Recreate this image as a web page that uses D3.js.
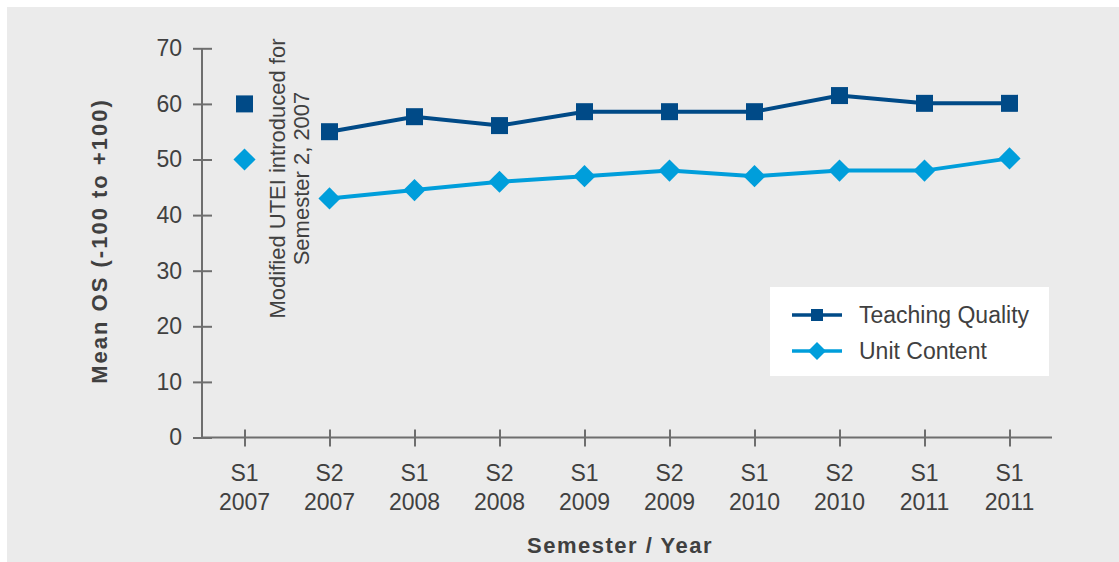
<!DOCTYPE html>
<html>
<head>
<meta charset="utf-8">
<script src="https://cdn.jsdelivr.net/npm/d3@7"></script>
<style>
  body { margin: 0; background: #fff; }
  text { font-family: "Liberation Sans", Arial, sans-serif; fill: #404040; }
</style>
</head>
<body>
<div id="chart"></div>
<script>
// semesters along x (two-line labels)
var semesters = ["S1", "S2", "S1", "S2", "S1", "S2", "S1", "S2", "S1", "S1"];
var years = ["2007", "2007", "2008", "2008", "2009", "2009", "2010", "2010", "2011", "2011"];
var teachingQuality = [60, 55, 57.7, 56.1, 58.6, 58.6, 58.6, 61.5, 60.1, 60.1];
var unitContent = [50, 43, 44.5, 46, 47, 48, 47, 48, 48, 50.2];
var yTicks = [0, 10, 20, 30, 40, 50, 60, 70];
// first point (S1 2007) is from the old survey, so not joined to the line
var joinFrom = 1;

var width = 1119, height = 562;
var dark = "#004a87", light = "#009edb", axisCol = "#6e6e6e";

var svg = d3.select("#chart").append("svg")
  .attr("width", width)
  .attr("height", height);

svg.append("rect")
  .attr("x", 7).attr("y", 7)
  .attr("width", width - 7).attr("height", height - 7)
  .attr("fill", "#ebebeb");

var plotLeft = 202, plotRight = 1052, plotTop = 48.3, plotBottom = 437.5;

var idx = d3.range(semesters.length);
var x = d3.scalePoint().domain(idx).range([plotLeft, plotRight]).padding(0.5);
var y = d3.scaleLinear().domain([0, 70]).range([plotBottom, plotTop]);

// y axis
var ya = svg.append("g").attr("transform", "translate(" + plotLeft + ",0)")
  .call(d3.axisLeft(y).tickValues(yTicks).tickSize(10).tickPadding(10));
ya.selectAll(".tick line").attr("x2", 10).attr("x1", -9);
svg.append("line").attr("class", "ax").attr("x1", plotLeft).attr("x2", plotLeft)
  .attr("y1", y(70)).attr("y2", plotBottom);

// x axis
var xa = svg.append("g").attr("transform", "translate(0," + plotBottom + ")")
  .call(d3.axisBottom(x).tickSize(9).tickFormat(""));
xa.selectAll(".tick line").attr("y1", -8);
svg.append("line").attr("class", "ax").attr("x1", plotLeft).attr("x2", plotRight)
  .attr("y1", plotBottom).attr("y2", plotBottom);

svg.selectAll(".domain").remove();
svg.selectAll(".tick line, line.ax").attr("stroke", axisCol).attr("stroke-width", 2);
ya.selectAll(".tick text").style("font-size", "23px").attr("fill", "#404040")
  .style("font-family", "Liberation Sans, Arial, sans-serif");

var xl = svg.append("g").selectAll("text").data(idx).enter().append("text")
  .attr("text-anchor", "middle")
  .style("font-size", "23px");
xl.append("tspan").attr("x", function(i) { return x(i); }).attr("y", 481)
  .text(function(i) { return semesters[i]; });
xl.append("tspan").attr("x", function(i) { return x(i); }).attr("y", 510)
  .text(function(i) { return years[i]; });

// axis titles
svg.append("text")
  .attr("transform", "translate(107,241)rotate(-90)")
  .attr("text-anchor", "middle")
  .style("font-size", "22px").style("font-weight", "bold").style("letter-spacing", "2px")
  .text("Mean OS (-100 to +100)");
svg.append("text")
  .attr("x", 620).attr("y", 553)
  .attr("text-anchor", "middle")
  .style("font-size", "22px").style("font-weight", "bold").style("letter-spacing", "1.5px")
  .text("Semester / Year");

// annotation
var note = svg.append("text")
  .attr("transform", "translate(285,178.5)rotate(-90)")
  .attr("text-anchor", "middle")
  .style("font-size", "22px");
note.append("tspan").attr("x", 0).attr("y", 0).text("Modified UTEI introduced for");
note.append("tspan").attr("x", 0).attr("y", 23.5).text("Semester 2, 2007");

var line = d3.line()
  .x(function(d) { return x(d.i); })
  .y(function(d) { return y(d.v); });

// square, or square turned 45deg for a diamond
function series(vals, col, rot, size) {
  var pts = vals.map(function(v, i) { return { i: i, v: v }; });
  svg.append("path")
    .datum(pts.slice(joinFrom))
    .attr("fill", "none")
    .attr("stroke", col)
    .attr("stroke-width", 4)
    .attr("d", line);
  svg.append("g").selectAll("path").data(pts).enter().append("path")
    .attr("transform", function(d) { return "translate(" + x(d.i) + "," + y(d.v) + ")rotate(" + rot + ")"; })
    .attr("d", d3.symbol().type(d3.symbolSquare).size(size))
    .attr("fill", col);
}

series(teachingQuality, dark, 0, 289);
series(unitContent, light, 45, 245);

// legend
var lg = svg.append("g");
lg.append("rect").attr("x", 770).attr("y", 287).attr("width", 279).attr("height", 89).attr("fill", "#fff");
var items = [
  { name: "Teaching Quality", col: dark, rot: 0, size: 144 },
  { name: "Unit Content", col: light, rot: 45, size: 162 }
];
items.forEach(function(it, k) {
  var yy = 315 + k * 36;
  lg.append("line").attr("x1", 792).attr("x2", 842).attr("y1", yy).attr("y2", yy)
    .attr("stroke", it.col).attr("stroke-width", 3.5);
  lg.append("path").attr("transform", "translate(817," + yy + ")rotate(" + it.rot + ")")
    .attr("d", d3.symbol().type(d3.symbolSquare).size(it.size)).attr("fill", it.col);
  lg.append("text").attr("x", 859).attr("y", yy + 8)
    .style("font-size", "23px").text(it.name);
});
</script>
</body>
</html>
